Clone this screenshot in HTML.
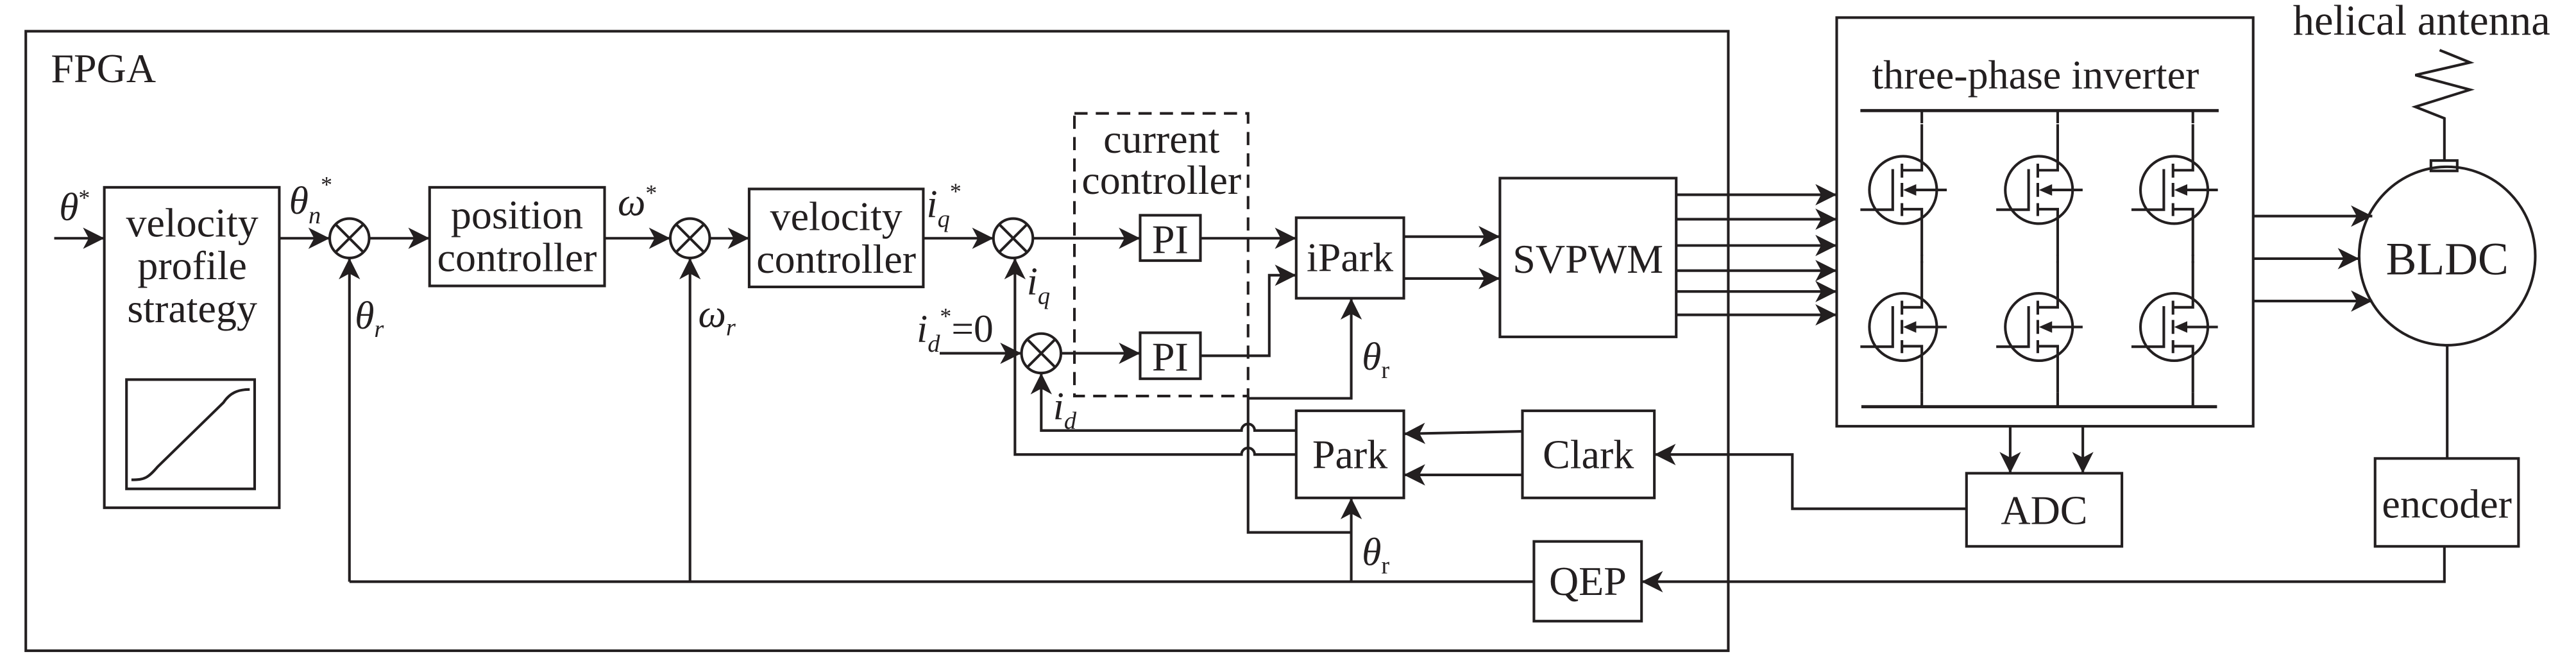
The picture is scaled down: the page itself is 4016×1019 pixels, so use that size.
<!DOCTYPE html>
<html><head><meta charset="utf-8"><style>
html,body{margin:0;padding:0;background:#fff;}
svg{display:block;}
text{font-family:"Liberation Serif",serif;fill:#231f20;}
</style></head><body>
<svg width="4016" height="1019" viewBox="0 0 1568 398" preserveAspectRatio="none" xmlns="http://www.w3.org/2000/svg">
<defs>
<marker id="a" markerUnits="userSpaceOnUse" markerWidth="16" markerHeight="14" refX="13" refY="6.5" orient="auto">
<path d="M0,0 L13,6.5 L0,13 L3.5,6.5 Z" fill="#231f20"/>
</marker>
<g id="fet" stroke="#231f20" stroke-width="1.6" fill="none">
<circle cx="0" cy="0" r="20.5"/>
<path d="M-26,12 H-6.3 V-12.7"/>
<path d="M-0.7,-16 V-7.5 M-0.7,-4.3 V4.2 M-0.7,8 V15.9"/>
<path d="M-0.7,-12 H11.4 V-40 M-0.7,11.7 H11.4 V40"/>
<path d="M3,0 H26.6"/>
<path d="M0,0 L8,-3.5 L8,3.5 Z" fill="#231f20" stroke="none"/>
</g>
</defs>
<g stroke="#231f20" stroke-width="1.6" fill="none">
<rect x="15.7" y="19" width="1036.3" height="377"/>
<rect x="63.5" y="114" width="106.5" height="195"/>
<rect x="77" y="231" width="78" height="66.5"/>
<path d="M80,292 C88,292 90,291 96,284 L136,245 C140,239 145,237 152,237"/>
<path d="M33,145 H63.5" marker-end="url(#a)"/>
<path d="M170,145 H200.7" marker-end="url(#a)"/>
<circle cx="212.7" cy="145" r="12"/>
<path d="M204.2,136.5 L221.2,153.5 M221.2,136.5 L204.2,153.5"/>
<path d="M224.7,145 H261.5" marker-end="url(#a)"/>
<rect x="261.5" y="114" width="106.5" height="60"/>
<path d="M368,145 H408" marker-end="url(#a)"/>
<circle cx="420" cy="145" r="12"/>
<path d="M411.5,136.5 L428.5,153.5 M428.5,136.5 L411.5,153.5"/>
<path d="M432,145 H456" marker-end="url(#a)"/>
<rect x="456" y="115" width="106" height="59.6"/>
<path d="M562,145 H604.7" marker-end="url(#a)"/>
<circle cx="616.7" cy="145" r="12"/>
<path d="M608.2,136.5 L625.2,153.5 M625.2,136.5 L608.2,153.5"/>
<path d="M628.7,145 H694" marker-end="url(#a)"/>
<rect x="694" y="131" width="36.7" height="27.6"/>
<path d="M730.7,145 H789" marker-end="url(#a)"/>
<rect x="654" y="69" width="105.7" height="172" stroke-dasharray="8,5"/>
<path d="M572,215 H621.8" marker-end="url(#a)"/>
<circle cx="633.8" cy="215" r="12"/>
<path d="M625.3,206.5 L642.3,223.5 M642.3,206.5 L625.3,223.5"/>
<path d="M645.8,215 H694" marker-end="url(#a)"/>
<rect x="694" y="202.5" width="36.7" height="28"/>
<path d="M730.7,216.5 H772.6 V167.5 H789" marker-end="url(#a)"/>
<rect x="789" y="132.5" width="65.5" height="49"/>
<path d="M789,276.6 H763.7 A4,4 0 0 0 755.7,276.6 H617.8 V157" marker-end="url(#a)"/>
<path d="M789,262 H763.7 A4,4 0 0 0 755.7,262 H633.8 V227" marker-end="url(#a)"/>
<rect x="789" y="250" width="65.5" height="53"/>
<path d="M759.7,241 V324 H822.5"/>
<path d="M759.7,242.4 H822.5 V181.5" marker-end="url(#a)"/>
<path d="M822.5,354 V303" marker-end="url(#a)"/>
<path d="M212.7,354 H933.7"/>
<path d="M212.7,354 V157" marker-end="url(#a)"/>
<path d="M420,354 V157" marker-end="url(#a)"/>
<rect x="933.7" y="329.5" width="65.5" height="48.5"/>
<path d="M1487.9,332.5 V354 H999.2" marker-end="url(#a)"/>
<rect x="926.7" y="250" width="80.3" height="53"/>
<path d="M926.7,262.5 L854.5,264" marker-end="url(#a)"/>
<path d="M926.7,289 H854.5" marker-end="url(#a)"/>
<path d="M1197,309.6 H1091 V276.6 H1007" marker-end="url(#a)"/>
<path d="M854.5,144 H913" marker-end="url(#a)"/>
<path d="M854.5,169.5 H913" marker-end="url(#a)"/>
<rect x="913" y="108.4" width="107.3" height="96.6"/>
<path d="M1020.3,118.5 H1118" marker-end="url(#a)"/>
<path d="M1020.3,133.4 H1118" marker-end="url(#a)"/>
<path d="M1020.3,149.4 H1118" marker-end="url(#a)"/>
<path d="M1020.3,164.7 H1118" marker-end="url(#a)"/>
<path d="M1020.3,177.4 H1118" marker-end="url(#a)"/>
<path d="M1020.3,191.6 H1118" marker-end="url(#a)"/>
<rect x="1118" y="10.7" width="253.5" height="248.7"/>
<path d="M1132.4,67.3 H1350.5 M1133,247.5 H1349.5" stroke-width="1.9"/>
<path d="M1169.8,67.3 V75 M1169.8,155 V160 M1169.8,239 V247.5"/>
<path d="M1252.5,67.3 V75 M1252.5,155 V160 M1252.5,239 V247.5"/>
<path d="M1334.8,67.3 V75 M1334.8,155 V160 M1334.8,239 V247.5"/>
<path d="M1223.6,259.4 V288" marker-end="url(#a)"/>
<path d="M1267.8,259.4 V288" marker-end="url(#a)"/>
<rect x="1197" y="288" width="94.6" height="44.5"/>
<path d="M1371.5,131.5 H1444" marker-end="url(#a)"/>
<path d="M1371.5,157.4 H1436" marker-end="url(#a)"/>
<path d="M1371.5,183.2 H1444" marker-end="url(#a)"/>
<ellipse cx="1489.6" cy="155.8" rx="53.6" ry="54.3"/>
<rect x="1479.7" y="97.7" width="16" height="6.3"/>
<path d="M1487.9,97.7 V72 L1470.2,65 L1503.5,54.6 L1470.2,45.7 L1503.5,38 L1485,30.5"/>
<path d="M1489.6,210 V279"/>
<rect x="1445.7" y="279" width="87.3" height="53.5"/>
</g>
<use href="#fet" x="1158.4" y="115.6"/>
<use href="#fet" x="1241.1" y="115.6"/>
<use href="#fet" x="1323.4" y="115.6"/>
<use href="#fet" x="1158.4" y="199"/>
<use href="#fet" x="1241.1" y="199"/>
<use href="#fet" x="1323.4" y="199"/>
<g font-size="25">
<text x="31" y="50">FPGA</text>
<text x="117" y="144" text-anchor="middle">velocity</text>
<text x="117" y="170" text-anchor="middle">profile</text>
<text x="117" y="196" text-anchor="middle">strategy</text>
<text x="314.7" y="139" text-anchor="middle">position</text>
<text x="314.7" y="165" text-anchor="middle">controller</text>
<text x="509" y="140" text-anchor="middle">velocity</text>
<text x="509" y="166" text-anchor="middle">controller</text>
<text x="707" y="93" text-anchor="middle">current</text>
<text x="707" y="118" text-anchor="middle">controller</text>
<text x="712.3" y="154" text-anchor="middle">PI</text>
<text x="712.3" y="225.5" text-anchor="middle">PI</text>
<text x="821.7" y="165" text-anchor="middle">iPark</text>
<text x="821.7" y="285" text-anchor="middle">Park</text>
<text x="966.8" y="285" text-anchor="middle">Clark</text>
<text x="966.5" y="362" text-anchor="middle">QEP</text>
<text x="966.6" y="166" text-anchor="middle">SVPWM</text>
<text x="1244.3" y="319" text-anchor="middle">ADC</text>
<text x="1489.4" y="315" text-anchor="middle">encoder</text>
<text x="1239" y="54" text-anchor="middle">three-phase inverter</text>
<text x="1474" y="21" text-anchor="middle" font-size="26">helical antenna</text>
<text x="1489.6" y="167" text-anchor="middle" font-size="28">BLDC</text>
</g>
<g font-size="24" font-style="italic">
<text x="36" y="134">θ<tspan font-size="14" font-style="normal" dy="-9">*</tspan></text>
<text x="176" y="130">θ<tspan font-size="15" dy="6">n</tspan><tspan font-size="14" font-style="normal" dy="-19">*</tspan></text>
<text x="216" y="200">θ<tspan font-size="15" dy="5">r</tspan></text>
<text x="376" y="131">ω<tspan font-size="14" font-style="normal" dy="-9">*</tspan></text>
<text x="425" y="199">ω<tspan font-size="15" dy="5">r</tspan></text>
<text x="564" y="132">i<tspan font-size="15" dy="6">q</tspan><tspan font-size="14" font-style="normal" dy="-17">*</tspan></text>
<text x="625" y="179">i<tspan font-size="15" dy="6">q</tspan></text>
<text x="558" y="208">i<tspan font-size="15" dy="6">d</tspan><tspan font-size="14" font-style="normal" dy="-17">*</tspan><tspan font-style="normal" dy="11">=0</tspan></text>
<text x="641" y="255">i<tspan font-size="15" dy="6">d</tspan></text>
<text x="829" y="225">θ<tspan font-size="15" font-style="normal" dy="5">r</tspan></text>
<text x="829" y="344">θ<tspan font-size="15" font-style="normal" dy="5">r</tspan></text>
</g>
</svg>
</body></html>
